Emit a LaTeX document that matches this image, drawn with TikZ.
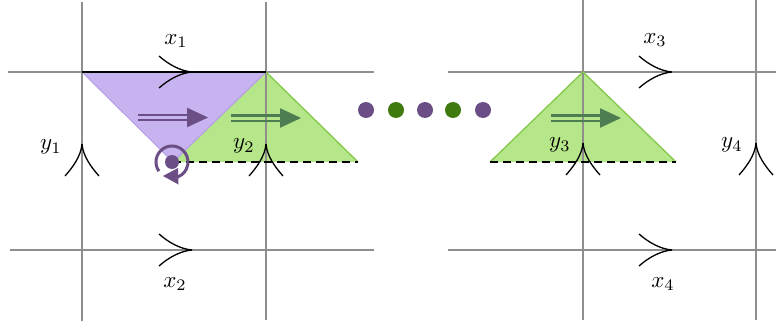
\documentclass[tikz,border=0pt]{standalone}
\usepackage{graphicx}
\usetikzlibrary{arrows.meta}
\definecolor{gridgray}{HTML}{8E8E8E}
\definecolor{lav}{HTML}{C7B3F0}
\definecolor{lavedge}{HTML}{B7A0E4}
\definecolor{greenfill}{HTML}{B6E68A}
\definecolor{greenedge}{HTML}{84C84A}
\definecolor{darkpurple}{HTML}{6A4E85}
\definecolor{darkgreen}{HTML}{4D7D50}
\definecolor{dotgreen}{HTML}{3F7A0E}
\newcommand{\biglbl}[1]{\scalebox{2.3}{$#1$}}
\tikzset{
  gridline/.style={draw=gridgray, line width=1.6pt},
  barb/.style={draw=black, line width=1.3pt},
  lbl/.style={inner sep=0pt},
  dashbase/.style={draw=black, line width=1.3pt, dash pattern=on 8pt off 5pt},
  harrow/.pic={
    \draw[barb] (-33,-16) .. controls (-24,-8) and (-12,-1) .. (0,0);
    \draw[barb] (-33,16) .. controls (-24,8) and (-12,1) .. (0,0);
  },
  varrow/.pic={
    \draw[barb] (-17,32) .. controls (-9,23) and (-1,12) .. (0,0);
    \draw[barb] (17,32) .. controls (9,23) and (1,12) .. (0,0);
  },
  dblarrow/.pic={
    \draw[line width=2.4pt] (0,-2.7) -- (52,-2.7);
    \draw[line width=2.4pt] (0,2.7) -- (52,2.7);
    \fill (49,-9.8) -- (70,0) -- (49,9.8) -- cycle;
  },
  bigdot/.style={circle, inner sep=0pt, minimum size=16pt}
}
\begin{document}
\begin{tikzpicture}[x=1pt,y=-1pt]
\useasboundingbox (0,0) rectangle (776,329);

% fills
\fill[lav] (82,72) -- (266,72) -- (173,162) -- cycle;
\fill[greenfill] (173,162) -- (266,72) -- (358,162) -- cycle;
\fill[greenfill] (490,162) -- (583,72) -- (676,162) -- cycle;

% grid
\draw[gridline] (82,2) -- (82,321);
\draw[gridline] (266,2) -- (266,320);
\draw[gridline] (583,0) -- (583,320);
\draw[gridline] (756,0) -- (756,320);
\draw[gridline] (8,72) -- (374,72);
\draw[gridline] (10,250) -- (374,250);
\draw[gridline] (448,72) -- (776,72);
\draw[gridline] (448,250) -- (776,250);

% triangle edges
\draw[lavedge, line width=1pt] (82,72) -- (173,162);
\draw[lavedge, line width=1.2pt] (173,162) -- (266,72);
\draw[greenedge, line width=1.3pt] (266,72) -- (358,162);
\draw[greenedge, line width=1.3pt] (490,162) -- (583,72) -- (676,162);
\draw[dashbase] (173,162) -- (358,162);
\draw[dashbase] (490,162) -- (676,162);
\draw[black, line width=1.8pt] (82,72) -- (266,72);

% double arrows
\pic[color=darkpurple] at (138,117.5) {dblarrow};
\pic[color=darkgreen] at (231,118) {dblarrow};
\pic[color=darkgreen] at (551,118) {dblarrow};

% rotation marker
\node[circle, fill=darkpurple, inner sep=0pt, minimum size=14pt] (rot) at (172,162) {};
\draw[darkpurple, line width=3pt]
  (172,162) ++(-215:16) arc[start angle=-215, end angle=80, radius=16];
\fill[darkpurple] (163,176) -- (178,168) -- (178.5,184.5) -- cycle;

% dots
\node[bigdot, fill=darkpurple] (d1) at (366,110) {};
\node[bigdot, fill=dotgreen] (d2) at (396,110) {};
\node[bigdot, fill=darkpurple] (d3) at (425,110) {};
\node[bigdot, fill=dotgreen] (d4) at (453,110) {};
\node[bigdot, fill=darkpurple] (d5) at (483,110) {};

% orientation arrows
\pic at (192,72) {harrow};
\pic at (192,250) {harrow};
\pic at (672,72) {harrow};
\pic at (672,250) {harrow};
\pic at (82,144) {varrow};
\pic at (266,144) {varrow};
\pic at (583,143) {varrow};
\pic at (756,143) {varrow};

% labels
\node[lbl] (x1) at (176,41) {\biglbl{x_1}};
\node[lbl] (x2) at (175,284) {\biglbl{x_2}};
\node[lbl] (x3) at (655,40) {\biglbl{x_3}};
\node[lbl] (x4) at (663,284) {\biglbl{x_4}};
\node[lbl] (y1) at (51,147) {\biglbl{y_1}};
\node[lbl] (y2) at (244,146) {\biglbl{y_2}};
\node[lbl] (y3) at (560,145) {\biglbl{y_3}};
\node[lbl] (y4) at (732,145) {\biglbl{y_4}};
\end{tikzpicture}
\end{document}
